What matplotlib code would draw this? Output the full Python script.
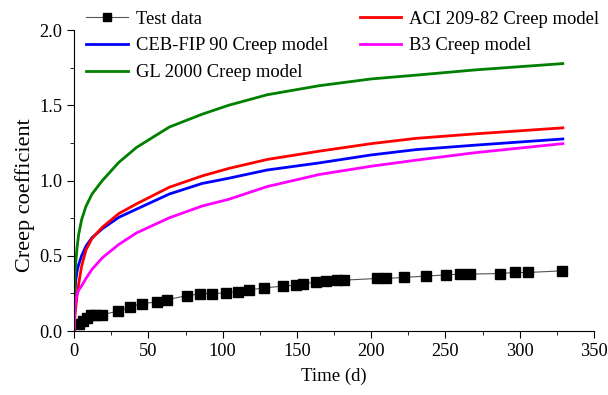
import matplotlib
matplotlib.use("Agg")
import matplotlib.pyplot as plt
from matplotlib.ticker import MultipleLocator

plt.rcParams['font.family'] = ['Liberation Serif', 'DejaVu Serif']
plt.rcParams['mathtext.fontset'] = 'stix'

# Test data
test_t = [3.4, 5.8, 8.5, 11.2, 14, 18.5, 29.7, 37.5, 45.4, 56, 62.8, 76, 85, 92.7,
          102.4, 110.2, 118, 128, 140.8, 149.3, 154, 163, 169.4, 177.2, 181.7, 204,
          209.7, 222, 236.9, 250.6, 260, 266.6, 286.8, 296.8, 305.7, 328.7]
test_phi = [0.047, 0.067, 0.089, 0.105, 0.107, 0.107, 0.133, 0.16, 0.182, 0.193, 0.209,
            0.235, 0.247, 0.249, 0.253, 0.262, 0.273, 0.287, 0.298, 0.305, 0.311, 0.327,
            0.333, 0.338, 0.338, 0.349, 0.349, 0.356, 0.365, 0.373, 0.378, 0.378, 0.382,
            0.389, 0.389, 0.40]

# Model curves
model_t = [0, 0.5, 1, 2, 3, 5, 8, 12, 19, 30, 42, 64, 86, 104, 130, 165, 200, 230, 270, 329]
aci = [0, 0.10, 0.15, 0.24, 0.31, 0.43, 0.54, 0.615, 0.69, 0.78, 0.845, 0.955, 1.03, 1.08,
       1.14, 1.195, 1.245, 1.28, 1.31, 1.35]
ceb = [0, 0.25, 0.33, 0.40, 0.44, 0.50, 0.565, 0.62, 0.68, 0.755, 0.81, 0.91, 0.98, 1.015,
       1.07, 1.117, 1.17, 1.205, 1.235, 1.276]
b3 = [0, 0.15, 0.20, 0.245, 0.27, 0.30, 0.35, 0.41, 0.487, 0.575, 0.652, 0.752, 0.83, 0.875,
      0.96, 1.04, 1.095, 1.135, 1.185, 1.245]
gl = [0, 0.35, 0.45, 0.56, 0.64, 0.74, 0.83, 0.91, 1.0, 1.12, 1.22, 1.355, 1.44, 1.50,
      1.57, 1.63, 1.675, 1.70, 1.735, 1.777]

fig = plt.figure(figsize=(6.08, 3.95), dpi=100)
ax = fig.add_axes([0.122, 0.162, 0.855, 0.762])

h_test, = ax.plot(test_t, test_phi, color='#555555', lw=0.8, marker='s', ms=6.5,
                  mfc='black', mec='black', label='Test data')
h_ceb, = ax.plot(model_t, ceb, color='#0000ff', lw=2, label='CEB-FIP 90 Creep model')
h_gl, = ax.plot(model_t, gl, color='#008000', lw=2, label='GL 2000 Creep model')
h_aci, = ax.plot(model_t, aci, color='#ff0000', lw=2, label='ACI 209-82 Creep model')
h_b3, = ax.plot(model_t, b3, color='#ff00ff', lw=2, label='B3 Creep model')

ax.set_xlim(0, 350)
ax.set_ylim(0, 2.0)
ax.xaxis.set_major_locator(MultipleLocator(50))
ax.xaxis.set_minor_locator(MultipleLocator(25))
ax.yaxis.set_major_locator(MultipleLocator(0.5))
ax.yaxis.set_minor_locator(MultipleLocator(0.25))
ax.yaxis.set_major_formatter(matplotlib.ticker.FormatStrFormatter('%.1f'))
ax.spines['top'].set_visible(False)
ax.spines['right'].set_visible(False)
ax.tick_params(axis='both', which='major', direction='out', length=5, labelsize=13.2)
ax.tick_params(axis='both', which='minor', direction='out', length=3)
ax.set_xlabel('Time (d)', fontsize=13.5, labelpad=6)
ax.set_ylabel('Creep coefficient', fontsize=16, labelpad=4)
ax.yaxis.set_label_coords(-0.075, 0.45)

leg = ax.legend(handles=[h_test, h_ceb, h_gl, h_aci, h_b3], ncol=2, frameon=False,
                loc='upper left', bbox_to_anchor=(0.009, 1.089), fontsize=13.4,
                handlelength=2.25, handletextpad=0.4, columnspacing=1.7,
                labelspacing=0.52, borderaxespad=0, borderpad=0.4)
leg.legend_handles[0].set_markersize(6)

fig.savefig('out.png', dpi=100)
